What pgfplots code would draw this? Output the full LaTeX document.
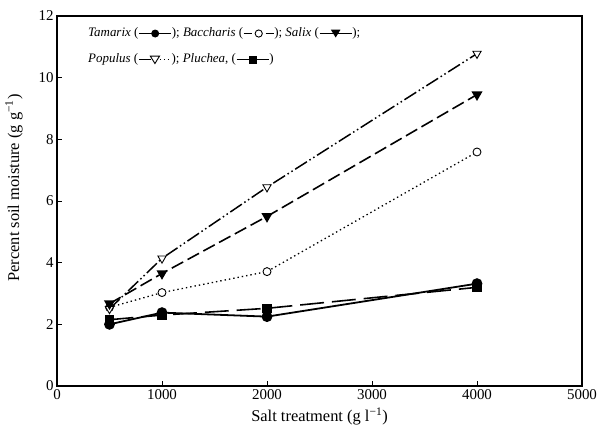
\documentclass[border=0pt]{standalone}
\usepackage{fontspec}
\setmainfont{Liberation Serif}
\usepackage{pgfplots}
\pgfplotsset{compat=1.18}
\newsavebox\bTam \newsavebox\bBac \newsavebox\bSal \newsavebox\bPop \newsavebox\bPlu
\begin{document}
\sbox\bTam{\tikz[baseline=-0.55ex]{\draw[line width=1.5pt] (0,0)--(32bp,0); \fill (16bp,0) circle (4bp);}}%
\sbox\bBac{\tikz[baseline=-0.55ex]{\draw[line width=1.2pt] (1bp,0)--(9bp,0); \draw[line width=1.2pt] (23bp,0)--(31bp,0); \draw[line width=0.9pt] (16bp,0) circle (3.6bp);}}%
\sbox\bSal{\tikz[baseline=-0.55ex]{\draw[line width=1.5pt] (0,0)--(32bp,0); \fill (16bp,-4bp)--(20.8bp,3.8bp)--(11.2bp,3.8bp)--cycle;}}%
\sbox\bPop{\tikz[baseline=-0.55ex]{\draw[line width=1.5pt] (0,0)--(12bp,0); \draw[line width=1.4pt, dash pattern=on 1.4pt off 2.6pt] (21bp,0)--(32bp,0); \draw[line width=0.9pt,fill=white] (16bp,-3.8bp)--(20.6bp,3.6bp)--(11.4bp,3.6bp)--cycle;}}%
\sbox\bPlu{\tikz[baseline=-0.55ex]{\draw[line width=1.5pt] (0,0)--(32bp,0); \fill (12bp,-4bp) rectangle (20bp,4bp);}}%
\begin{tikzpicture}
\begin{axis}[
  scale only axis,
  width=525bp, height=370bp,
  xmin=0, xmax=5000, ymin=0, ymax=12,
  xtick={0,1000,2000,3000,4000,5000},
  ytick={0,2,4,6,8,10,12},
  tick pos=left, tick align=inside,
  major tick length=5bp,
  axis line style={line width=1.3pt},
  every tick/.style={black, line width=1pt},
  /pgf/number format/assume math mode=true,
  /pgf/number format/set thousands separator={},
  tick label style={font=\fontsize{15}{17}\selectfont},
  xlabel={Salt treatment (g l\textsuperscript{−1})},
  ylabel={Percent soil moisture (g g\textsuperscript{−1})},
  label style={font=\fontsize{16.5}{18}\selectfont},
  xlabel style={at={(axis description cs:0.5,-0.083)},anchor=center},
  ylabel style={at={(axis description cs:-0.082,0.535)},anchor=center},
  clip=false,
]
% Baccharis
\addplot[black, line width=1.3pt, dash pattern=on 1.4pt off 3pt, mark=*, mark size=4pt, mark options={solid, fill=white, line width=0.9pt}]
  coordinates {(500,2.55) (1000,3.03) (2000,3.71) (4000,7.59)};
% Populus
\addplot[black, line width=1.5pt, dash pattern=on 14pt off 3pt on 1.5pt off 3pt on 1.5pt off 3pt, mark=triangle*, mark size=4.8pt, mark options={solid, rotate=180, fill=white, line width=0.9pt}]
  coordinates {(500,2.5) (1000,4.14) (2000,6.45) (4000,10.78)};
% Salix
\addplot[black, line width=1.6pt, dash pattern=on 13pt off 5pt, mark=triangle*, mark size=4.8pt, mark options={solid, rotate=180}]
  coordinates {(500,2.67) (1000,3.65) (2000,5.5) (4000,9.45)};
% Pluchea
\addplot[black, line width=1.6pt, dash pattern=on 24pt off 8pt, mark=square*, mark size=3.8pt, mark options={solid}]
  coordinates {(500,2.15) (1000,2.3) (2000,2.52) (4000,3.2)};
% Tamarix
\addplot[black, line width=1.8pt, mark=*, mark size=4.5pt, mark options={solid}]
  coordinates {(500,2.0) (1000,2.38) (2000,2.25) (4000,3.32)};
\node[anchor=base west, font=\fontsize{13}{15}\selectfont, inner sep=0pt] at (axis cs:295,11.35)
  {\textit{Tamarix} (\usebox\bTam); \textit{Baccharis} (\usebox\bBac); \textit{Salix} (\usebox\bSal);};
\node[anchor=base west, font=\fontsize{13}{15}\selectfont, inner sep=0pt] at (axis cs:295,10.5)
  {\textit{Populus} (\usebox\bPop); \textit{Pluchea}, (\usebox\bPlu)};
\end{axis}
\pgfresetboundingbox
\path ([shift={(-57bp,-47bp)}]current axis.south west) rectangle ([shift={(17bp,16bp)}]current axis.north east);
\end{tikzpicture}
\end{document}
